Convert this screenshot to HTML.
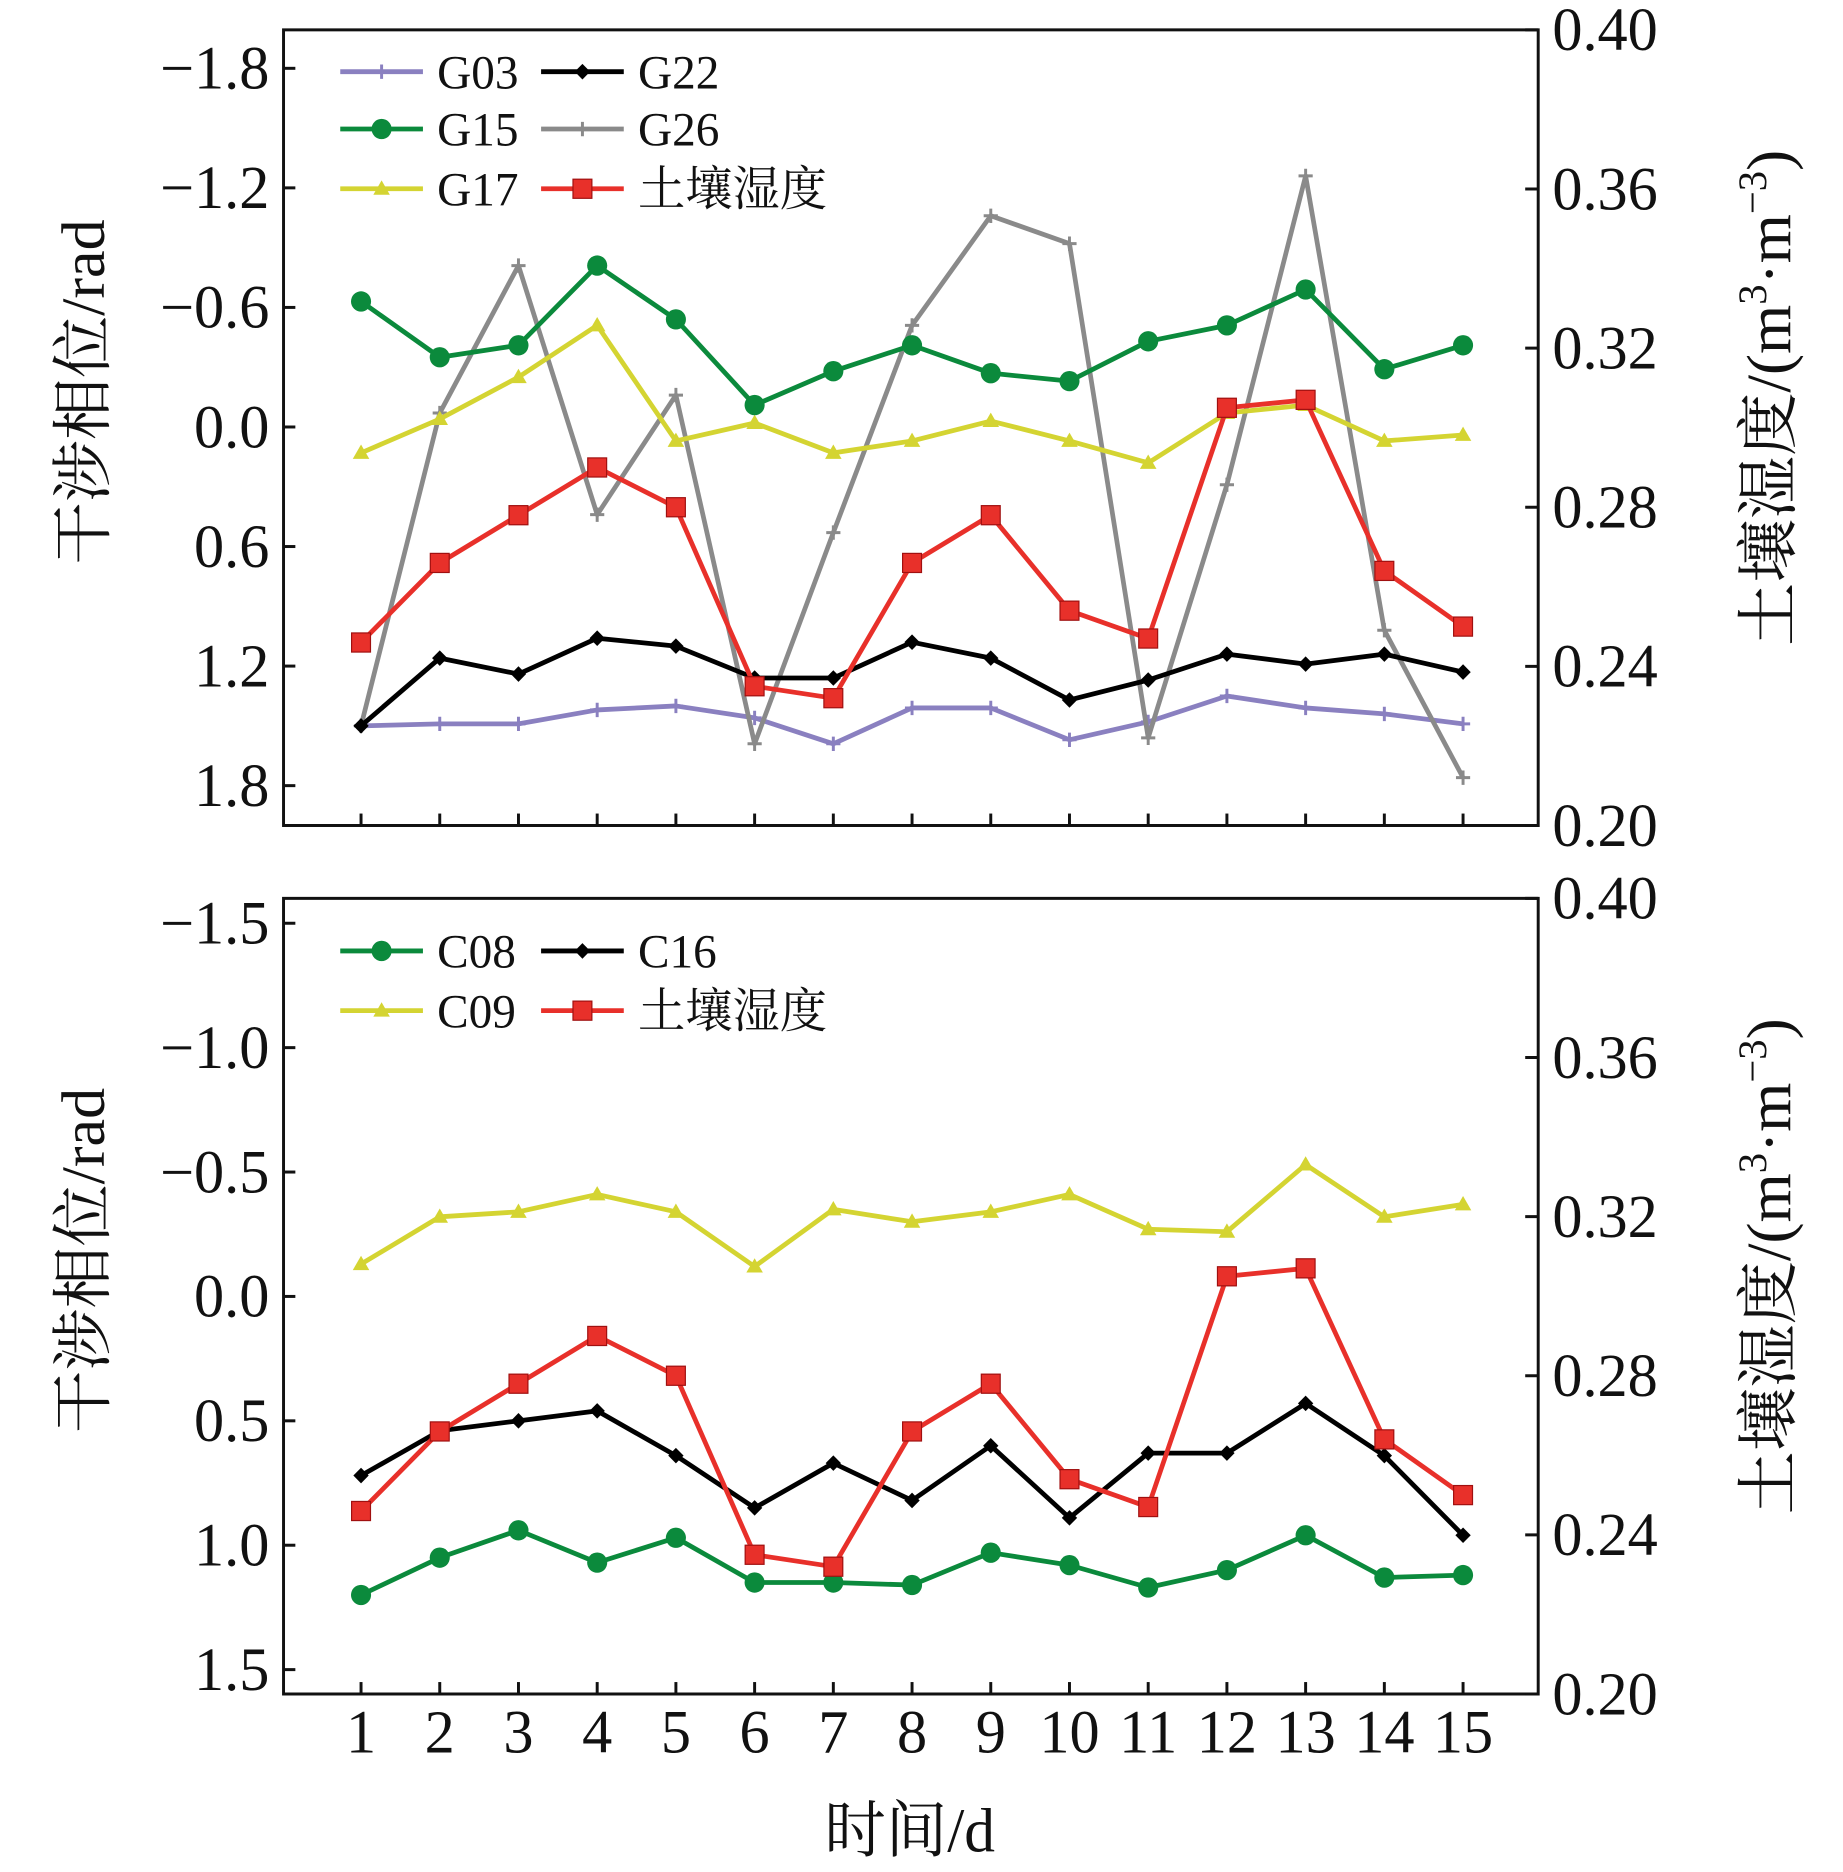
<!DOCTYPE html>
<html><head><meta charset="utf-8"><style>
html,body{margin:0;padding:0;background:#fff}
svg{display:block}
text{font-family:"Liberation Serif","Noto Serif CJK SC",serif;fill:#111}
</style></head><body>
<svg id="chart" width="1843" height="1872" viewBox="0 0 1560 1567" preserveAspectRatio="none" xmlns="http://www.w3.org/2000/svg"></svg>
<script>
const days=[1,2,3,4,5,6,7,8,9,10,11,12,13,14,15];
const g03=[1.50,1.49,1.49,1.42,1.40,1.46,1.59,1.41,1.41,1.57,1.48,1.35,1.41,1.44,1.49];
const g22=[1.50,1.16,1.24,1.06,1.10,1.26,1.26,1.08,1.16,1.37,1.27,1.14,1.19,1.14,1.23];
const g15=[-0.63,-0.35,-0.41,-0.81,-0.54,-0.11,-0.28,-0.41,-0.27,-0.23,-0.43,-0.51,-0.69,-0.29,-0.41];
const g26=[1.50,-0.07,-0.81,0.44,-0.16,1.59,0.53,-0.51,-1.06,-0.92,1.56,0.29,-1.26,1.02,1.76];
const g17=[0.13,-0.04,-0.25,-0.51,0.07,-0.02,0.13,0.07,-0.03,0.07,0.18,-0.07,-0.11,0.07,0.04];
const soil=[0.246,0.266,0.278,0.290,0.280,0.235,0.232,0.266,0.278,0.254,0.247,0.305,0.307,0.264,0.250];
const c08=[1.20,1.05,0.94,1.07,0.97,1.15,1.15,1.16,1.03,1.08,1.17,1.10,0.96,1.13,1.12];
const c16=[0.72,0.54,0.50,0.46,0.64,0.85,0.67,0.82,0.60,0.89,0.63,0.63,0.43,0.64,0.96];
const c09=[-0.13,-0.32,-0.34,-0.41,-0.34,-0.12,-0.35,-0.30,-0.34,-0.41,-0.27,-0.26,-0.53,-0.32,-0.37];
const topLeftTicks=[-1.8,-1.2,-0.6,0.0,0.6,1.2,1.8];
const botLeftTicks=[-1.5,-1.0,-0.5,0.0,0.5,1.0,1.5];
const rightTicks=[0.20,0.24,0.28,0.32,0.36,0.40];

const NS="http://www.w3.org/2000/svg";
const svg=document.getElementById('chart');
function mk(tag,attrs,parent){const e=document.createElementNS(NS,tag);for(const k in attrs)e.setAttribute(k,attrs[k]);(parent||svg).appendChild(e);return e;}
const X0=240,X1=1302;
const xs=d=>305.6+(d-1)*(1238.4-305.6)/14;

function marker(g,type,x,y,color){
  let e;
  if(type==='circle')e=mk('circle',{cx:x,cy:y,r:8.5,fill:color},g);
  else if(type==='square')e=mk('rect',{x:x-8,y:y-8,width:16,height:16,fill:color,stroke:'#a01010','stroke-width':1},g);
  else if(type==='diamond')e=mk('path',{d:`M${x} ${y-6.5}L${x+6.5} ${y}L${x} ${y+6.5}L${x-6.5} ${y}Z`,fill:color},g);
  else if(type==='tri')e=mk('path',{d:`M${x} ${y-7}L${x+7} ${y+5}L${x-7} ${y+5}Z`,fill:color},g);
  else e=mk('path',{d:`M${x-6} ${y}H${x+6}M${x} ${y-6}V${y+6}`,stroke:color,'stroke-width':2.5},g);
  return e;
}
function series(panel,name,vals,scale,color,type){
  const g=mk('g',{});
  
  
  const pts=vals.map((v,i)=>[xs(days[i]),scale(v)]);
  mk('polyline',{points:pts.map(p=>p.join(',')).join(' '),fill:'none',stroke:color,'stroke-width':4,'stroke-linejoin':'round'},g);
  pts.forEach(p=>{const m=marker(g,type,p[0],p[1],color);
    
    });
}
function panel(id,Y0,Y1,lmin,lmax,lticks,defs,legend,showX){
  const ly=v=>Y0+(v-lmin)/(lmax-lmin)*(Y1-Y0);
  const ry=v=>Y1-(v-0.20)/0.20*(Y1-Y0);
  const ax=mk('g',{});
  
  
  mk('rect',{x:X0,y:Y0,width:X1-X0,height:Y1-Y0,fill:'none',stroke:'#111','stroke-width':2.5},ax);
  lticks.forEach(t=>{const y=ly(t);
    mk('line',{x1:X0,x2:X0+10,y1:y,y2:y,stroke:'#111','stroke-width':2.5},ax);
    const tx=mk('text',{x:X0-12,y:y+17,'text-anchor':'end','font-size':51},ax);
    tx.textContent=(t<0?'\u2212':'')+Math.abs(t).toFixed(1);
    
    });
  rightTicks.forEach(t=>{const y=ry(t);
    mk('line',{x1:X1-11,x2:X1,y1:y,y2:y,stroke:'#111','stroke-width':2.5},ax);
    const tx=mk('text',{x:X1+12,y:y+17,'font-size':51},ax);
    tx.textContent=t.toFixed(2);
    
    });
  days.forEach(d=>{const x=xs(d);
    mk('line',{x1:x,x2:x,y1:Y1-10,y2:Y1,stroke:'#111','stroke-width':2.5},ax);
    if(showX){const tx=mk('text',{x:x,y:1467,'text-anchor':'middle','font-size':51},ax);
      tx.textContent=d;
      
      }});
  const cy=(Y0+Y1)/2;
  const lt=mk('text',{x:0,y:0,'font-size':52,'text-anchor':'middle',transform:`translate(88 ${cy-30}) rotate(-90)`});
  lt.textContent='干涉相位/rad';
  
  
  const rt=mk('text',{x:0,y:0,'font-size':53,'text-anchor':'middle',transform:`translate(1515 ${cy-25}) rotate(-90)`});
  rt.innerHTML='土壤湿度/(m<tspan dy="-20" font-size="34">3</tspan><tspan dy="20">·m</tspan><tspan dy="-20" font-size="34">−3</tspan><tspan dy="20">)</tspan>';
  
  
  defs.forEach(s=>series(id,s[0],s[1],s[4]?ry:ly,s[2],s[3]));
  const lg=mk('g',{});
  
  
  legend.forEach(l=>{const [label,col,type,cx,y]=l;
    const e=mk('g',{},lg);
    
    
    mk('line',{x1:cx,x2:cx+70,y1:y,y2:y,stroke:col,'stroke-width':4},e);
    marker(e,type,cx+35,y,col);
    const t=mk('text',{x:cx+82,y:y+14,'font-size':40},e);t.textContent=label;});
}
const PU='#8a80c0',GR='#0b8a3c',YE='#d4d432',GY='#8a8a8a',RD='#e8302a',BK='#000';
panel('top',25,691,-1.993,2.0,topLeftTicks,
 [['g03',g03,PU,'plus'],['g26',g26,GY,'plus'],['g17',g17,YE,'tri'],['g15',g15,GR,'circle'],['g22',g22,BK,'diamond'],['soil',soil,RD,'square',true]],
 [['G03',PU,'plus',288,60],['G22',BK,'diamond',458,60],['G15',GR,'circle',288,108],['G26',GY,'plus',458,108],['G17',YE,'tri',288,158],['土壤湿度',RD,'square',458,158]],false);
panel('bottom',752,1418,-1.60,1.598,botLeftTicks,
 [['c09',c09,YE,'tri'],['c08',c08,GR,'circle'],['c16',c16,BK,'diamond'],['soil',soil,RD,'square',true]],
 [['C08',GR,'circle',288,796],['C16',BK,'diamond',458,796],['C09',YE,'tri',288,846],['土壤湿度',RD,'square',458,846]],true);
const xt=mk('text',{x:770,y:1550,'font-size':52,'text-anchor':'middle'});
xt.textContent='时间/d';


</script>
</body></html>
